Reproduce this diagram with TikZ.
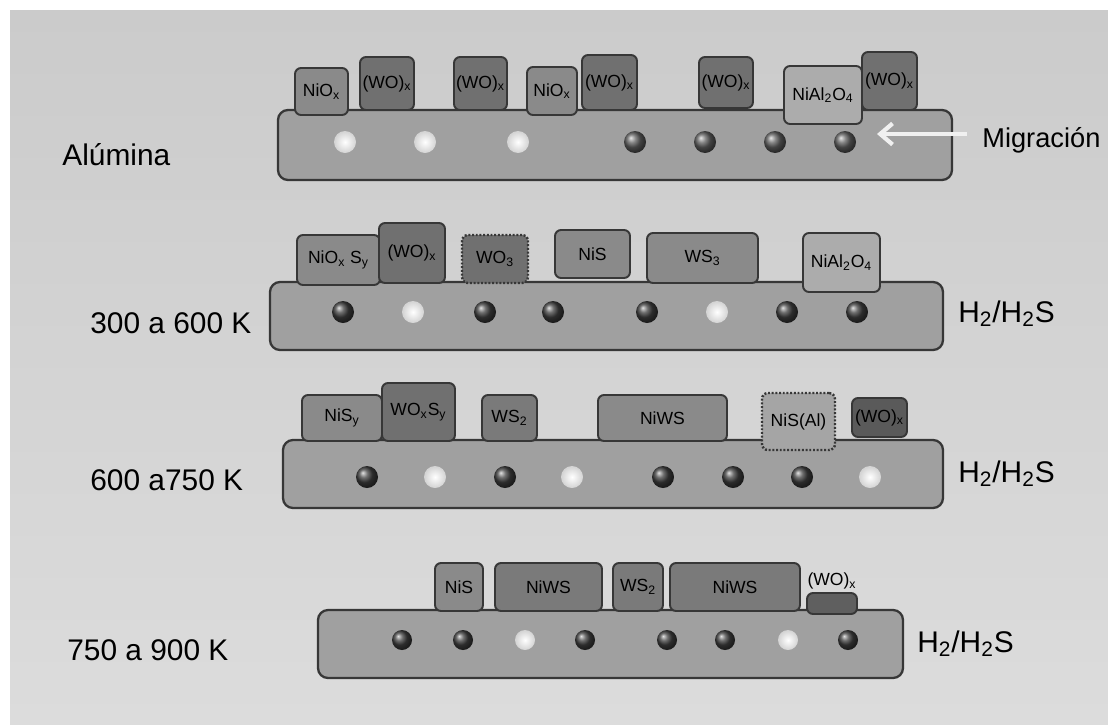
\documentclass[tikz,border=0pt]{standalone}
\usepackage{fontspec}
\setmainfont{Liberation Sans}
\usetikzlibrary{arrows.meta,shadings}

\definecolor{bgtop}{RGB}{203,203,203}
\definecolor{bgbot}{RGB}{220,220,220}
\definecolor{barc}{RGB}{160,160,160}
\definecolor{nic}{RGB}{138,138,138}
\definecolor{woc}{RGB}{112,112,112}
\definecolor{spc}{RGB}{172,172,172}
\definecolor{edgec}{RGB}{55,55,55}

\begin{document}
\begin{tikzpicture}[
            x=0.02cm, y=-0.02cm,
            font=\fontsize{10}{12}\selectfont,
            wh/.style 2 args={minimum width=#1*0.02cm, minimum height=#2*0.02cm},
            support/.style={rectangle, rounded corners=0.2cm, draw=edgec, line width=1.3pt, fill=barc, inner sep=0pt},
            nibox/.style={rectangle, rounded corners=0.12cm, draw=edgec, line width=1.1pt, fill=nic, inner sep=0pt},
            wobox/.style={nibox, fill=woc},
            spbox/.style={nibox, fill=spc},
            dotbox/.style={nibox, densely dotted, line width=1.4pt},
            ballw/.style={circle, minimum size=0.44cm, inner sep=0pt, shading=radial, inner color=white, outer color=gray!35},
            ballg/.style={circle, minimum size=0.44cm, inner sep=0pt, shading=ball, ball color=gray!75!black},
            balld/.style={ballg, ball color=gray!50!black},
            rowlabel/.style={font=\fontsize{17}{20}\selectfont, anchor=base west, inner sep=0pt},
            migarrow/.style={line width=2.4pt, draw=gray!12, -{Straight Barb[length=7pt,width=12pt]}}
        ]

        % Fondo
        \useasboundingbox (0,0) rectangle (1108,724);
        \shade[top color=bgtop, bottom color=bgbot] (10,10) rectangle (1108,724);

        % Alumina
        \node (bar1) [support, wh={674}{70}] at (615,145) {};
        \node (r1n1) [nibox, wh={53}{47}] at (321.5,91.5) {NiO\textsubscript{x}};
        \node (r1w1) [wobox, wh={54}{53}] at (387,83.5) {(WO)\textsubscript{x}};
        \node (r1w2) [wobox, wh={53}{53}] at (480.5,83.5) {(WO)\textsubscript{x}};
        \node (r1n2) [nibox, wh={50}{48}] at (552,91) {NiO\textsubscript{x}};
        \node (r1w3) [wobox, wh={55}{55}] at (609.5,82.5) {(WO)\textsubscript{x}};
        \node (r1w4) [wobox, wh={54}{51}] at (726,82.5) {(WO)\textsubscript{x}};
        \node (r1s1) [spbox, wh={78}{58}] at (823,95) {NiAl\textsubscript{2}O\textsubscript{4}};
        \node (r1w5) [wobox, wh={55}{58}] at (889.5,81) {(WO)\textsubscript{x}};
        \foreach \x/\b [count=\i] in {345/ballw,425/ballw,518/ballw,635/ballg,705/ballg,775/ballg,845/ballg}
            \node (r1b\i) [\b] at (\x,142) {};

        \node (alu) [rowlabel] at (62,165) {Alúmina};
        \node (migr) [rowlabel, font=\fontsize{15.5}{18}\selectfont] at (982,147) {Migración};
        \coordinate (migend) at (877,134);
        \draw [migarrow] ([xshift=-0.3cm]migr.west |- migend) -- (migend);

        % 300 a 600 K
        \node (bar2) [support, wh={673}{68}] at (606.5,316) {};
        \node (r2n1) [nibox, wh={83}{50}] at (338.5,260) {NiO\textsubscript{x} S\textsubscript{y}};
        \node (r2w1) [wobox, wh={66}{60}] at (412,253) {(WO)\textsubscript{x}};
        \node (r2w2) [dotbox, fill=woc, wh={66}{48}] at (495,259) {WO\textsubscript{3}};
        \node (r2n2) [nibox, wh={75}{48}] at (592.5,254) {NiS};
        \node (r2n3) [nibox, wh={111}{50}] at (702.5,258) {WS\textsubscript{3}};
        \node (r2s1) [spbox, wh={77}{59}] at (841.5,262.5) {NiAl\textsubscript{2}O\textsubscript{4}};
        \foreach \x/\b [count=\i] in {343/balld,413/ballw,485/balld,553/balld,647/balld,717/ballw,787/balld,857/balld}
            \node (r2b\i) [\b] at (\x,312) {};

        \node (t2) [rowlabel] at (90,333) {300 a 600 K};
        \node (g2) [rowlabel] at (958,322) {H\textsubscript{2}/H\textsubscript{2}S};

        % 600 a 750 K
        \node (bar3) [support, wh={660}{68}] at (613,474) {};
        \node (r3n1) [nibox, wh={80}{46}] at (342,418) {NiS\textsubscript{y}};
        \node (r3w1) [wobox, wh={73}{58}] at (418.5,412) {WO\textsubscript{x}S\textsubscript{y}};
        \node (r3n2) [nibox, fill=woc!60!nic, wh={55}{46}] at (509.5,418) {WS\textsubscript{2}};
        \node (r3n3) [nibox, wh={129}{46}] at (662.5,418) {NiWS};
        \node (r3s1) [dotbox, fill=spc!80!nic, wh={73}{57}] at (798.5,421.5) {NiS(Al)};
        \node (r3w2) [wobox, fill=woc!80!black, wh={55}{39}] at (879.5,417.5) {(WO)\textsubscript{x}};
        \foreach \x/\b [count=\i] in {367/balld,435/ballw,505/balld,572/ballw,663/balld,733/balld,802/balld,870/ballw}
            \node (r3b\i) [\b] at (\x,477) {};

        \node (t3) [rowlabel] at (90,490) {600 a750 K};
        \node (g3) [rowlabel] at (958,482) {H\textsubscript{2}/H\textsubscript{2}S};

        % 750 a 900 K
        \node (bar4) [support, wh={585}{68}] at (610.5,644) {};
        \node (r4n1) [nibox, wh={48}{48}] at (459,587) {NiS};
        \node (r4n2) [nibox, fill=woc!60!nic, wh={107}{48}] at (548.5,587) {NiWS};
        \node (r4n3) [nibox, fill=woc!60!nic, wh={50}{48}] at (638,587) {WS\textsubscript{2}};
        \node (r4n4) [nibox, fill=woc!60!nic, wh={130}{48}] at (735,587) {NiWS};
        \node (r4w1) [wobox, fill=woc!85!black, wh={50}{21}] at (832,603.5) {};
        \node (r4wl) [inner sep=0pt] at (832,581) {(WO)\textsubscript{x}};
        \foreach \x/\b [count=\i] in {402/balld,463/balld,525/ballw,585/balld,667/balld,725/balld,788/ballw,848/balld}
            \node (r4b\i) [\b, minimum size=0.4cm] at (\x,640) {};

        \node (t4) [rowlabel] at (67,660) {750 a 900 K};
        \node (g4) [rowlabel] at (917,652) {H\textsubscript{2}/H\textsubscript{2}S};

    \end{tikzpicture}
\end{document}
